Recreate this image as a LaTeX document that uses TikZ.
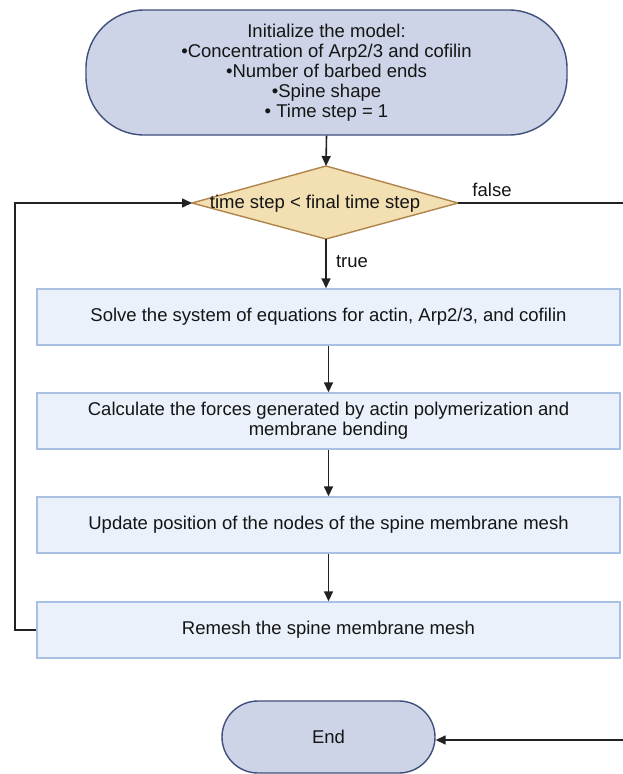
\documentclass[tikz,border=0pt]{standalone}
\usepackage{fontspec}
\setmainfont{Liberation Sans}
\usetikzlibrary{arrows.meta}
\definecolor{termfill}{HTML}{CDD4E8}
\definecolor{termdraw}{HTML}{3F4F7C}
\definecolor{decfill}{HTML}{F2DFB2}
\definecolor{decdraw}{HTML}{B0844A}
\definecolor{boxfill}{HTML}{EAF1FB}
\definecolor{boxdraw}{HTML}{A8C0E2}
\definecolor{linecol}{HTML}{222222}
\definecolor{txt}{HTML}{151515}
\tikzset{
  term/.style={draw=termdraw, fill=termfill, line width=1.4pt, align=center, text=txt},
  stepbox/.style={draw=boxdraw, fill=boxfill, line width=1.4pt, minimum width=583pt, minimum height=56pt, align=center, text=txt, inner sep=0pt},
  conn/.style={draw=linecol, line width=1.6pt},
  arr/.style={conn, -{Triangle[length=10pt,width=9pt]}},
  lbl/.style={text=txt, inner sep=0pt},
}
\begin{document}
\begin{tikzpicture}[x=1pt,y=-1pt, font=\fontsize{18.5}{20}\selectfont]
\useasboundingbox (0,0) rectangle (622,774);
\fill[white] (0,0) rectangle (622,774);

\node[term, minimum width=481pt, minimum height=125pt, rounded corners=58pt, inner sep=0pt] (start) at (326.5,72.5)
  {Initialize the model:\\•Concentration of Arp2/3 and cofilin\\•Number of barbed ends\\•Spine shape\\• Time step = 1};

% decision diamond
\coordinate (dt) at (326,166);
\coordinate (db) at (326,239);
\coordinate (dl) at (192,203);
\coordinate (dr) at (458,203);
\draw[draw=decdraw, fill=decfill, line width=1.4pt] (dt) -- (dr) -- (db) -- (dl) -- cycle;
\node[lbl] (dec) at (315,204) {time step < final time step};

\node[stepbox] (b1) at (328.5,317) {Solve the system of equations for actin, Arp2/3, and cofilin};
\node[stepbox] (b2) at (328.5,421) {Calculate the forces generated by actin polymerization and\\membrane bending};
\node[stepbox] (b3) at (328.5,525) {Update position of the nodes of the spine membrane mesh};
\node[stepbox] (b4) at (328.5,630) {Remesh the spine membrane mesh};

\node[term, minimum width=213pt, minimum height=72pt, rounded corners=36pt] (end) at (328.5,737) {End};

\coordinate (lx) at (15,0);
\coordinate (fr) at (623,203);
\coordinate (er) at (623,740);

\draw[arr] (start.south) -- (dt);
\draw[arr] (db) -- (db |- b1.north);
\draw[arr] (b1.south) -- (b2.north);
\draw[arr] (b2.south) -- (b3.north);
\draw[arr] (b3.south) -- (b4.north);
\draw[arr] (b4.west) -- (b4.west -| lx) |- (dl);
\draw[conn] (dr) -- (fr);
\draw[arr] (er) -- (end.east |- er);

\node[lbl] (tl) at (352,262) {true};
\node[lbl] (fl) at (492,190) {false};
\end{tikzpicture}
\end{document}
